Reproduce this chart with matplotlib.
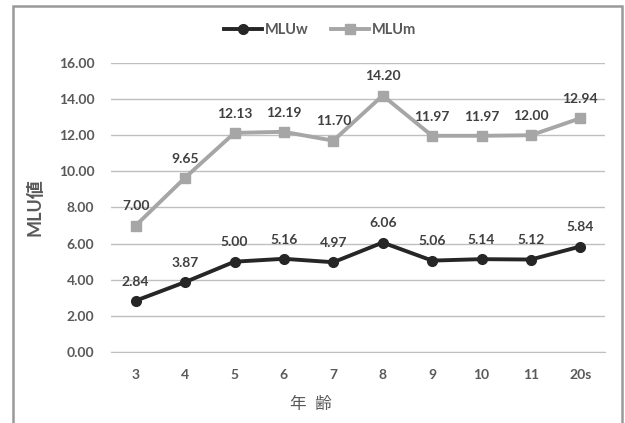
import matplotlib.pyplot as plt
from matplotlib.patches import Rectangle

plt.rcParams['font.family'] = ['Lato', 'Noto Sans CJK JP', 'DejaVu Sans']

ages = ['3', '4', '5', '6', '7', '8', '9', '10', '11', '20s']
mlu_w = [2.84, 3.87, 5.00, 5.16, 4.97, 6.06, 5.06, 5.14, 5.12, 5.84]
mlu_m = [7.00, 9.65, 12.13, 12.19, 11.70, 14.20, 11.97, 11.97, 12.00, 12.94]

fig = plt.figure(figsize=(6.25, 4.23), dpi=100)
ax = fig.add_axes([111 / 625, 1 - 352 / 423, 494 / 625, 289 / 423])

x = list(range(len(ages)))
ax.plot(x, mlu_w, color='#262626', lw=2.8, marker='o', ms=7, label='MLUw', zorder=3)
ax.plot(x, mlu_m, color='#a6a6a6', lw=2.8, marker='s', ms=6.5, label='MLUm', zorder=3)

for series in (mlu_w, mlu_m):
    for xi, v in zip(x, series):
        ax.annotate(f'{v:.2f}', (xi, v), xytext=(0, 9.5), textcoords='offset points',
                    ha='center', va='bottom', fontsize=10, fontweight='bold', color='#404040')

ax.set_xlim(-0.5, len(ages) - 0.5)
ax.set_ylim(0, 16)
ax.set_yticks(range(0, 17, 2))
ax.set_yticklabels([f'{t:.2f}' for t in range(0, 17, 2)])
ax.set_xticks(x)
ax.set_xticklabels(ages)
ax.grid(axis='y', color='#bfbfbf', lw=1)
ax.set_axisbelow(True)
for s in ['top', 'right', 'left']:
    ax.spines[s].set_visible(False)
ax.spines['bottom'].set_color('#bfbfbf')
ax.tick_params(length=0, labelsize=10, labelcolor='#595959', pad=12)
for lab in ax.get_xticklabels() + ax.get_yticklabels():
    lab.set_fontweight('bold')

ax.set_ylabel('MLU値', fontsize=13, fontweight='bold', color='#595959')
ax.yaxis.set_label_coords((44 - 111) / 494, 0.5)
ax.set_xlabel('年  齢', fontsize=12, color='#595959')
ax.xaxis.set_label_coords((311 - 111) / 494, -(396 - 352) / 289)

fig.legend(loc='center', bbox_to_anchor=(320 / 625, 1 - 30 / 423), ncol=2, frameon=False,
           handlelength=2.6, columnspacing=1.5, handletextpad=0.2,
           prop={'weight': 'bold', 'size': 10.5}, labelcolor='#595959')

# outer frame of the chart area
fig.patches.append(Rectangle((13 / 625, -0.05), 609 / 625, 1.05 - 6 / 423,
                             transform=fig.transFigure, fill=False,
                             edgecolor='#999999', lw=1.8))

fig.savefig('out.png', dpi=100)
